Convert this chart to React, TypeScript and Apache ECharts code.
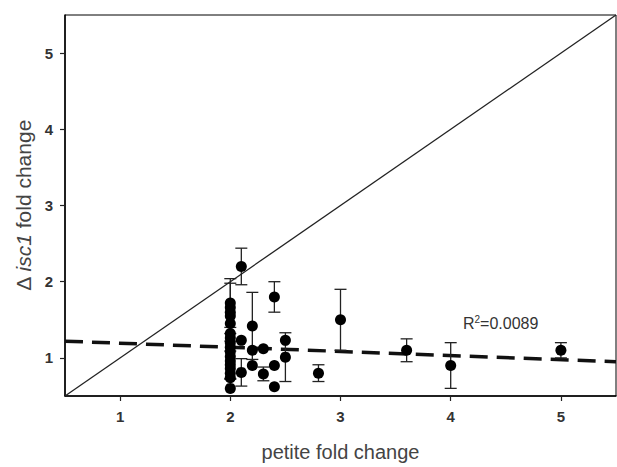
import React, { useEffect, useRef } from "react";
import * as echarts from "echarts";

// Data
const pointX = [
  2, 2, 2, 2, 2, 2, 2, 2, 2, 2, 2, 2, 2, 2, 2, 2, 2,
  2.1, 2.4, 2.2, 2.1, 2.2, 2.3, 2.2, 2.1, 2.3, 2.4, 2.4, 2.5, 2.5,
  2.8, 3.0, 3.6, 4.0, 5.0,
];
const pointY = [
  1.72, 1.66, 1.6, 1.55, 1.45, 1.32, 1.26, 1.2, 1.14, 1.08, 1.02, 0.96, 0.91, 0.86, 0.8, 0.74, 0.6,
  2.2, 1.8, 1.42, 1.23, 1.1, 1.12, 0.9, 0.81, 0.79, 0.9, 0.62, 1.23, 1.01,
  0.8, 1.5, 1.1, 0.9, 1.1,
];
const pointErr = [
  0.32, 0, 0.38, 0, 0, 0, 0, 0, 0, 0, 0.3, 0, 0.18, 0, 0, 0, 0,
  0.24, 0.2, 0.44, 0, 0, 0, 0, 0.18, 0.09, 0, 0, 0, 0.32,
  0.11, 0.4, 0.15, 0.3, 0.1,
];
const identityLine = [
  [0.5, 0.5],
  [5.5, 5.5],
];
const regressionLine = [
  [0.5, 1.22],
  [5.5, 0.95],
];
const tickValues = [1, 2, 3, 4, 5];
const rSquaredText = "0.0089";

const FONT = "'Liberation Sans', Arial, Helvetica, sans-serif";

export default function App() {
  const ref = useRef<HTMLDivElement>(null);

  useEffect(() => {
    if (!ref.current) return;
    const chart = echarts.init(ref.current, undefined, { renderer: "svg" });

    const points = pointX.map((x, i) => [x, pointY[i]]);
    const errData = pointX.map((x, i) => [x, pointY[i], pointErr[i]]);

    const option: any = {
      animation: false,
      backgroundColor: "#ffffff",
      grid: {
        left: 65,
        right: 1,
        top: 15,
        bottom: 66,
        show: true,
        borderColor: "#000",
        borderWidth: 1,
      },
      xAxis: {
        type: "value",
        min: 0.5,
        max: 5.5,
        name: "petite fold change",
        nameLocation: "middle",
        nameGap: 46,
        nameTextStyle: { fontFamily: FONT, fontSize: 20, color: "#444" },
        axisLine: { show: true, lineStyle: { color: "#000", width: 1.5 } },
        axisTick: {
          show: true,
          inside: false,
          length: 5,
          customValues: tickValues,
          lineStyle: { color: "#222", width: 1.2 },
        },
        axisLabel: {
          customValues: tickValues,
          margin: 13,
          fontFamily: FONT,
          fontSize: 15,
          fontWeight: "bold",
          color: "#333",
        },
        splitLine: { show: false },
      },
      yAxis: {
        type: "value",
        min: 0.5,
        max: 5.5,
        name: "Δ {i|isc1} fold change",
        nameLocation: "middle",
        nameGap: 31,
        nameTextStyle: {
          fontFamily: FONT,
          fontSize: 21,
          color: "#444",
          rich: {
            i: { fontFamily: FONT, fontSize: 21, color: "#444", fontStyle: "italic" },
          },
        },
        axisLine: { show: true, lineStyle: { color: "#000", width: 1.5 } },
        axisTick: {
          show: true,
          inside: false,
          length: 5,
          customValues: tickValues,
          lineStyle: { color: "#222", width: 1.2 },
        },
        axisLabel: {
          customValues: tickValues,
          margin: 12,
          fontFamily: FONT,
          fontSize: 15,
          fontWeight: "bold",
          color: "#333",
        },
        splitLine: { show: false },
      },
      series: [
        {
          type: "line",
          data: identityLine,
          showSymbol: false,
          silent: true,
          lineStyle: { color: "#222", width: 1.3 },
          z: 1,
        },
        {
          type: "line",
          data: regressionLine,
          showSymbol: false,
          silent: true,
          lineStyle: { color: "#111", width: 3.5, type: [18, 9] },
          z: 2,
        },
        {
          type: "custom",
          data: errData,
          z: 3,
          renderItem: (params: any, api: any) => {
            const x = api.value(0);
            const y = api.value(1);
            const e = api.value(2);
            if (!e) return null;
            const top = api.coord([x, y + e]);
            const bot = api.coord([x, y - e]);
            const hw = 6;
            const style = { stroke: "#222", lineWidth: 1.3 };
            return {
              type: "group",
              children: [
                { type: "line", shape: { x1: top[0], y1: top[1], x2: bot[0], y2: bot[1] }, style },
                { type: "line", shape: { x1: top[0] - hw, y1: top[1], x2: top[0] + hw, y2: top[1] }, style },
                { type: "line", shape: { x1: bot[0] - hw, y1: bot[1], x2: bot[0] + hw, y2: bot[1] }, style },
              ],
            };
          },
        },
        {
          type: "scatter",
          data: points,
          symbol: "circle",
          symbolSize: 11,
          itemStyle: { color: "#000", opacity: 1 },
          z: 4,
        },
      ],
      graphic: [
        {
          type: "text",
          x: 463,
          y: 323,
          style: {
            text: "{a|R}{s|2}{a|=" + rSquaredText + "}",
            fontFamily: FONT,
            fill: "#333",
            verticalAlign: "middle",
            rich: {
              a: { fontFamily: FONT, fontSize: 16, color: "#333", lineHeight: 18 },
              s: { fontFamily: FONT, fontSize: 10, color: "#333", verticalAlign: "top", lineHeight: 18 },
            },
          },
        },
      ],
    };

    chart.setOption(option);
    return () => chart.dispose();
  }, []);

  return (
    <div
      ref={ref}
      style={{ position: "fixed", left: 0, top: 0, width: 617, height: 467, background: "#fff" }}
    />
  );
}
